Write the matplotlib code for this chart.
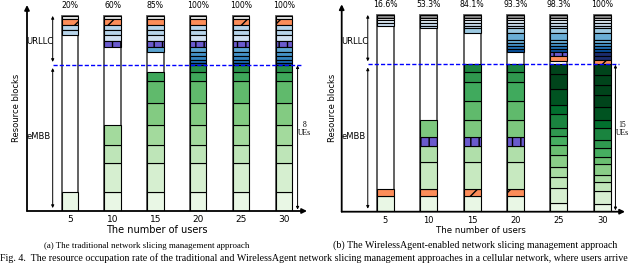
import matplotlib
matplotlib.use('Agg')
import matplotlib.pyplot as plt

users = [5, 10, 15, 20, 25, 30]

# (a) traditional approach: occupation rate, eMBB blocks (from bottom), URLLC blocks (from top)
a_rate = ['20%', '60%', '85%', '100%', '100%', '100%']
a_embb = [
    [9.6],
    [9.6, 15.2, 8.9, 10.3],
    [9.6, 15.2, 8.9, 10.3, 11.6, 10.8, 5.1],
    [9.6, 15.2, 8.9, 10.3, 11.6, 10.8, 5.1, 3.5],
    [9.6, 15.2, 8.9, 10.3, 11.6, 10.8, 5.1, 3.5],
    [9.6, 15.2, 8.9, 10.3, 11.6, 10.8, 5.1, 3.5],
]
a_embb_kind = ['e', 'eeee', 'eeeeeee', 'eeeeeeee', 'eeeeeeee', 'eeeeeeee']
a_urllc = [
    [1.7, 2.9, 2.6, 2.7],
    [1.7, 2.9, 2.6, 2.7, 2.7, 3.4],
    [1.7, 2.9, 2.6, 2.7, 2.7, 3.4, 2.3],
    [1.7, 2.9, 2.6, 2.7, 2.7, 3.4, 2.3, 2.1, 2.2, 1.3, 1.1],
    [1.7, 2.9, 2.6, 2.7, 2.7, 3.4, 2.3, 2.1, 2.2, 1.3, 1.1],
    [1.7, 2.9, 2.6, 2.7, 2.7, 3.4, 2.3, 2.1, 2.2, 1.3, 1.1],
]
a_urllc_kind = ['gobb', 'gobbbp', 'gobbbpb', 'gobbbpbbbbb', 'gobbbpbbbbb', 'gobbbpbbbbb']

# (b) WirelessAgent-enabled approach
b_rate = ['16.6%', '53.3%', '84.1%', '93.3%', '98.3%', '100%']
b_embb = [
    [8.0, 3.4],
    [8.0, 3.4, 14.0, 8.1, 4.3, 8.6],
    [8.0, 3.4, 14.0, 8.1, 4.3, 8.6, 10.0, 9.5, 4.9, 4.2],
    [8.0, 3.4, 14.0, 8.1, 4.3, 8.6, 10.0, 9.5, 4.9, 4.2],
    [4.3, 7.9, 5.3, 5.4, 5.9, 5.1, 4.6, 4.2, 7.0, 4.6, 8.0, 7.6, 5.1],
    [3.8, 6.8, 4.4, 3.7, 5.4, 3.9, 4.3, 4.2, 5.9, 4.2, 6.8, 5.9, 5.1, 5.1, 5.4],
]
b_embb_kind = ['eo', 'eoeepe', 'eoeepeeeee', 'eoeepeeeee', 'e' * 13, 'e' * 15]
b_urllc = [
    [1.5, 1.3, 1.3, 1.3],
    [1.5, 1.3, 1.3, 1.3, 1.4],
    [1.5, 1.3, 1.3, 1.3, 1.4, 2.5],
    [1.5, 1.3, 1.3, 1.3, 1.4, 2.5, 3.4, 1.7, 1.5, 1.5, 1.2],
    [1.5, 1.3, 1.3, 1.3, 1.4, 2.5, 3.4, 1.7, 1.5, 1.5, 1.2, 2.5, 2.2],
    [1.5, 1.3, 1.3, 1.3, 1.4, 2.5, 3.4, 1.7, 1.5, 1.5, 1.2, 2.5, 1.7, 2.2],
]
b_urllc_kind = ['dgbb', 'dgbbb', 'dgbbbb', 'dgbbbbbbbbb', 'dgbbbbbbbbbpo', 'dgbbbbbbbbbnno']

# styles
a_green_step = [0.09] * 6
b_green_step = [0.075, 0.075, 0.075, 0.075, 0.085, 0.085]
a_blue = [0, 0, 0.3, 0.3, 0.2, 0, 0.55, 0.62, 0.68, 0.78, 0.88]
b_blue = [0, 0, 0.12, 0.22, 0.25, 0.38, 0.5, 0.5, 0.62, 0.75, 0.88, 0, 0, 0]


def seg_color(kind, shade):
    if kind == 'e':
        return plt.cm.Greens(min(shade, 1.0))
    if kind == 'b':
        return plt.cm.Blues(shade)
    return {'o': '#fc8d59', 'p': '#6a5acd', 'g': '#ebebeb',
            'd': '#8c8c8c', 'n': '#1c2d6e'}[kind]


def draw_panel(ax, rate, embb, embb_kind, urllc, urllc_kind, green_step, blue,
               width, xmax, ymax, fs_tick, fs_label, ues):
    ax.set_xlim(0, xmax)
    ax.set_ylim(0, ymax)
    for x, r, e, ek, u, uk, st in zip(users, rate, embb, embb_kind, urllc, urllc_kind, green_step):
        ax.bar(x, 100, width, color='white', edgecolor='#555555', lw=1.3, zorder=1)
        bottom = 0
        for i, (h, k) in enumerate(zip(e, ek)):
            ax.bar(x, h, width, bottom=bottom, color=seg_color(k, 0.1 + st * i),
                   edgecolor='black', lw=0.8, zorder=2,
                   hatch={'o': '/', 'p': '||'}.get(k))
            bottom += h
        top = 100
        for i, (h, k) in enumerate(zip(u, uk)):
            ax.bar(x, h, width, bottom=top - h, color=seg_color(k, blue[i]),
                   edgecolor='black', lw=0.8, zorder=2,
                   hatch={'o': '/', 'p': '||'}.get(k))
            top -= h
        ax.text(x, 105.2, r, ha='center', va='center', fontsize=5.6)

    for s in ax.spines.values():
        s.set_visible(False)
    ax.set_yticks([])
    ax.set_xticks(users)
    ax.tick_params(axis='x', length=0, pad=3, labelsize=fs_tick)
    ax.set_xlabel('The number of users', fontsize=fs_label, labelpad=1)
    ax.set_ylabel('Resource blocks', fontsize=6)

    ar = dict(arrowstyle='-|>', color='black', lw=1.3, mutation_scale=7, shrinkA=0, shrinkB=0)
    ax.annotate('', xy=(0, 1), xytext=(0, 0), xycoords='axes fraction', arrowprops=ar)
    ax.annotate('', xy=(1, 0), xytext=(0, 0), xycoords='axes fraction', arrowprops=ar)

    dbl = dict(arrowstyle='<|-|>', color='black', lw=0.7, mutation_scale=4, shrinkA=0, shrinkB=0)
    ax.annotate('', xy=(3, 100), xytext=(3, 76.4), arrowprops=dbl)
    ax.annotate('', xy=(3, 73.3), xytext=(3, 1.5), arrowprops=dbl)
    ax.annotate('', xy=(xmax - 1.1, 74.7), xytext=(xmax - 1.1, 0.7), arrowprops=dbl)
    ax.plot([3, xmax - 0.7], [75, 75], color='blue', ls=(0, (3, 1.5)), lw=1, zorder=5)

    ax.text(1.5, 86.7, 'URLLC', ha='center', va='center', fontsize=6)
    ax.text(1.4, 38.2, 'eMBB', ha='center', va='center', fontsize=6)
    ax.text(xmax - 0.3, 42, ues, ha='center', va='center', fontsize=5.5,
            family='Liberation Serif', linespacing=1.1)


fig = plt.figure(figsize=(6.4, 2.65), dpi=100)

ax1 = fig.add_axes([27 / 640, 54 / 265, 280 / 640, 206 / 265])
draw_panel(ax1, a_rate, a_embb, a_embb_kind, a_urllc, a_urllc_kind, a_green_step, a_blue,
           1.9, 32.7, 105.6, 6.5, 7, '8\nUEs')
ax1.yaxis.set_label_coords(-0.022, 0.5)
ax1.xaxis.set_label_coords(0.4625, -0.07)

ax2 = fig.add_axes([341.7 / 640, 53.3 / 265, 283.3 / 640, 207.4 / 265])
draw_panel(ax2, b_rate, b_embb, b_embb_kind, b_urllc, b_urllc_kind, b_green_step, b_blue,
           1.95, 32.6, 105.4, 6, 6.2, '15\nUEs')
ax2.yaxis.set_label_coords(-0.016, 0.5)
ax2.xaxis.set_label_coords(0.49, -0.07)

fig.text(146.5 / 640, 1 - 245.5 / 265, '(a) The traditional network slicing management approach',
         ha='center', va='center', fontsize=6.4, family='Liberation Serif')
fig.text(475.5 / 640, 1 - 245.5 / 265, '(b) The WirelessAgent-enabled network slicing management approach',
         ha='center', va='center', fontsize=7.2, family='Liberation Serif')
fig.text(0.5 / 640, 1 - 258.5 / 265,
         'Fig. 4.  The resource occupation rate of the traditional and WirelessAgent network slicing '
         'management approaches in a cellular network, where users arrive',
         ha='left', va='center', fontsize=7.2, family='Liberation Serif')

fig.savefig('out.png', dpi=100)
